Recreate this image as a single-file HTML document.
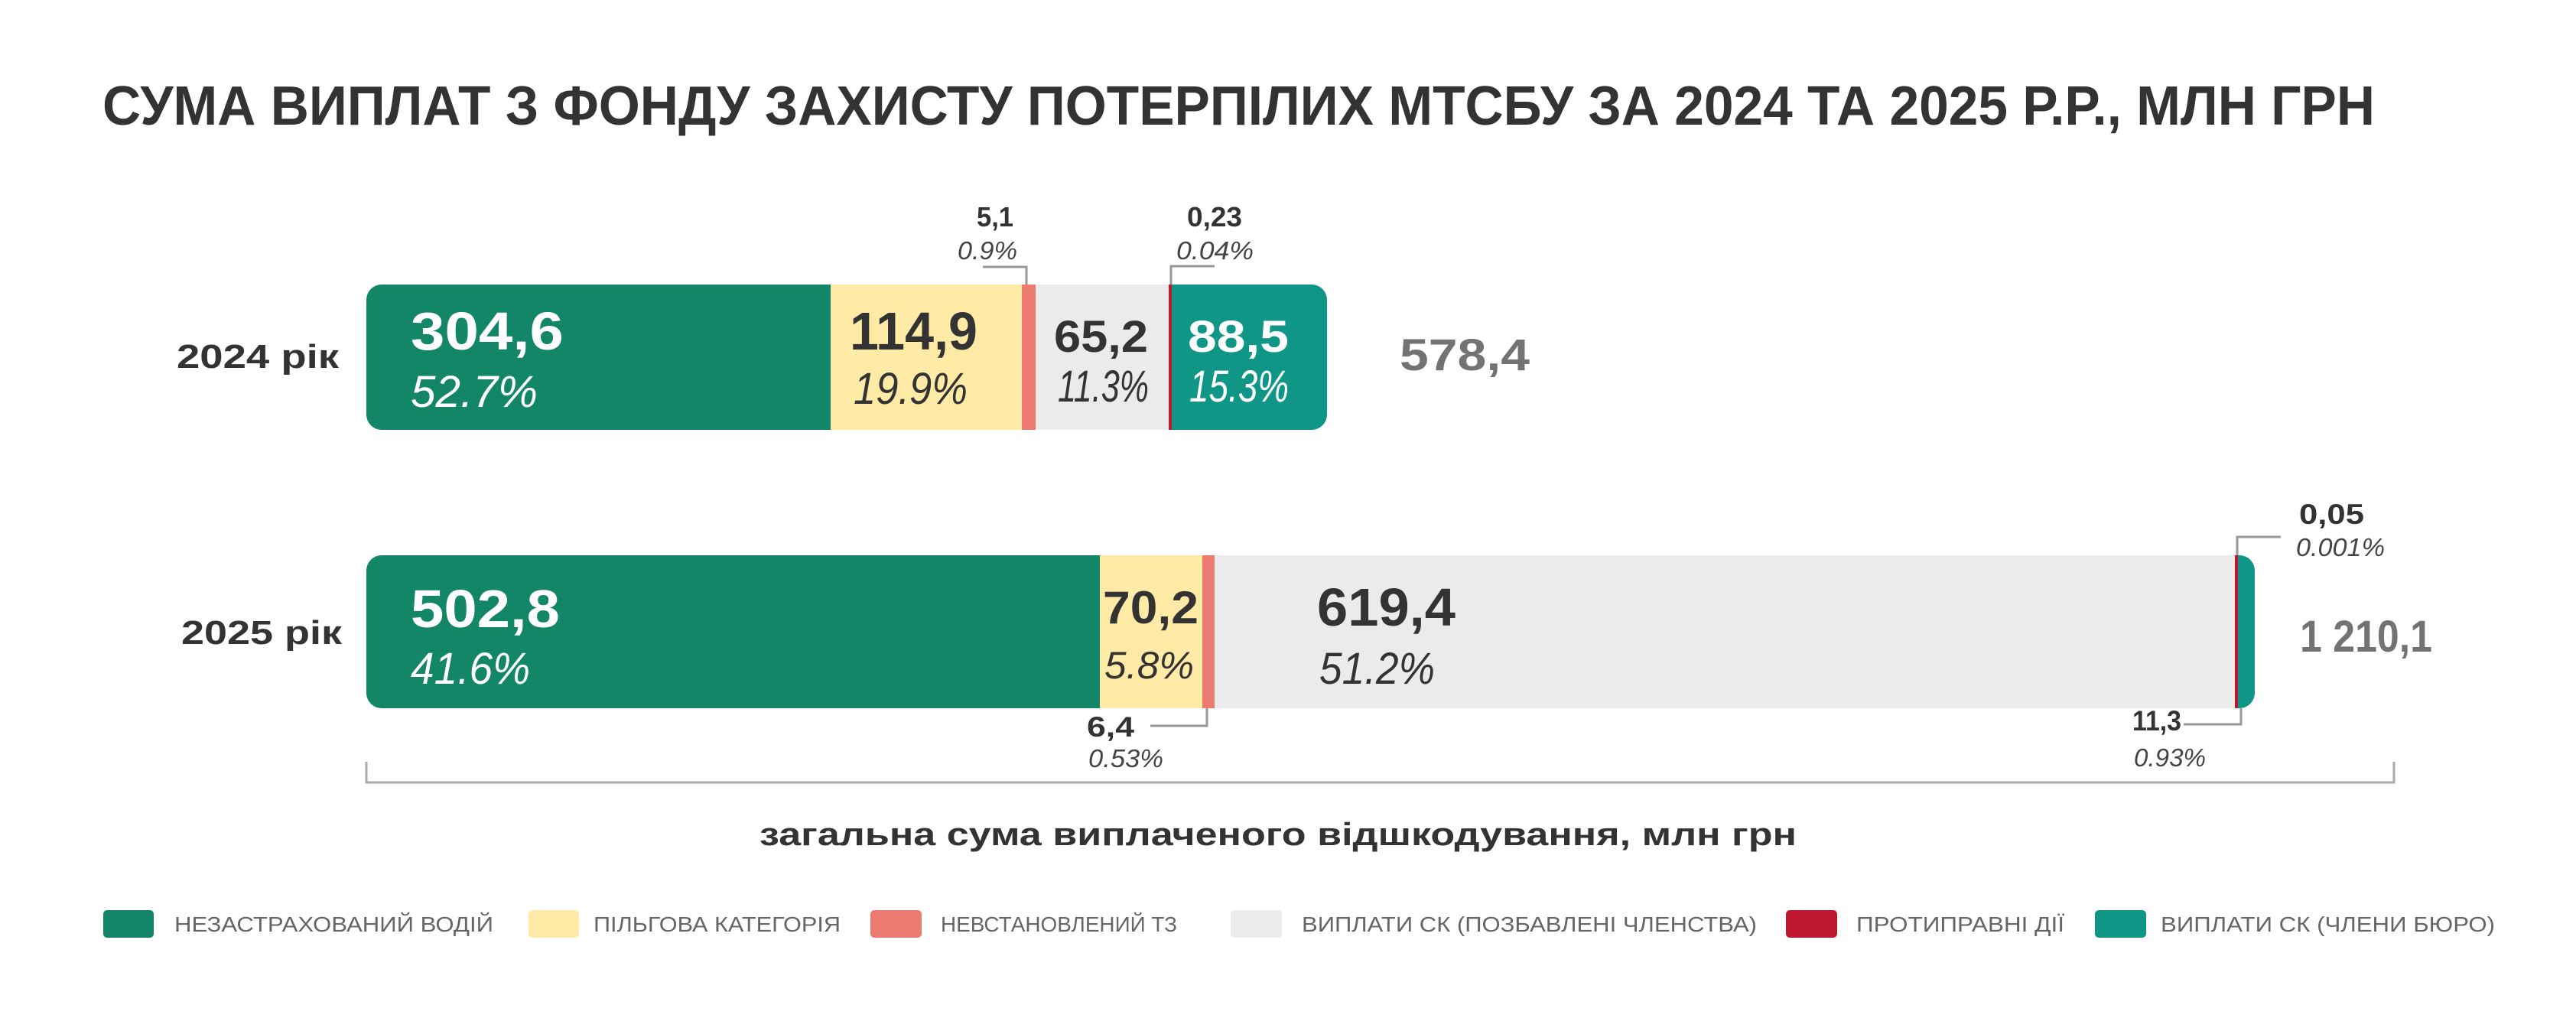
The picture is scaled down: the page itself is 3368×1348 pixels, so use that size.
<!DOCTYPE html>
<html><head><meta charset="utf-8"><style>
html,body{margin:0;padding:0;background:#fff;}
svg{display:block;}
text{font-family:"Liberation Sans","DejaVu Sans",sans-serif;}
.b{font-weight:bold;}
.i{font-style:italic;}
</style></head><body>
<svg width="3368" height="1348" viewBox="0 0 3368 1348" xmlns="http://www.w3.org/2000/svg">
<defs>
<clipPath id="c1"><rect x="479" y="372" width="1256" height="190" rx="20"/></clipPath>
<clipPath id="c2"><rect x="479" y="726" width="2469" height="200" rx="20"/></clipPath>
</defs>
<rect width="3368" height="1348" fill="#fff"/>
<text x="134" y="163" class="b" font-size="72" fill="#333" textLength="2971" lengthAdjust="spacingAndGlyphs">СУМА ВИПЛАТ З ФОНДУ ЗАХИСТУ ПОТЕРПІЛИХ МТСБУ ЗА 2024 ТА 2025 Р.Р., МЛН ГРН</text>

<!-- 2024 -->
<text x="231" y="481" class="b" font-size="44" fill="#333" textLength="212" lengthAdjust="spacingAndGlyphs">2024 рік</text>
<g clip-path="url(#c1)">
<rect x="479" y="372" width="607" height="190" fill="#128667"/>
<rect x="1086" y="372" width="250" height="190" fill="#ffeaa6"/>
<rect x="1336" y="372" width="18" height="190" fill="#ec7c72"/>
<rect x="1354" y="372" width="174" height="190" fill="#ebebeb"/>
<rect x="1528" y="372" width="4" height="190" fill="#be1731"/>
<rect x="1532" y="372" width="203" height="190" fill="#0f9686"/>
</g>
<text x="537" y="457" class="b" font-size="70" fill="#fff" textLength="200" lengthAdjust="spacingAndGlyphs">304,6</text>
<text x="537" y="532" class="i" font-size="58" fill="#fff" textLength="166" lengthAdjust="spacingAndGlyphs">52.7%</text>
<text x="1111" y="457" class="b" font-size="70" fill="#333" textLength="167" lengthAdjust="spacingAndGlyphs">114,9</text>
<text x="1116" y="528" class="i" font-size="58" fill="#333" textLength="149" lengthAdjust="spacingAndGlyphs">19.9%</text>
<text x="1378" y="460" class="b" font-size="58" fill="#333" textLength="123" lengthAdjust="spacingAndGlyphs">65,2</text>
<text x="1383" y="525" class="i" font-size="58" fill="#333" textLength="119" lengthAdjust="spacingAndGlyphs">11.3%</text>
<text x="1553" y="460" class="b" font-size="58" fill="#fff" textLength="132" lengthAdjust="spacingAndGlyphs">88,5</text>
<text x="1555" y="525" class="i" font-size="58" fill="#fff" textLength="130" lengthAdjust="spacingAndGlyphs">15.3%</text>
<text x="1830" y="484" class="b" font-size="58" fill="#737373" textLength="170" lengthAdjust="spacingAndGlyphs">578,4</text>

<text x="1277" y="296" class="b" font-size="36" fill="#333" textLength="48" lengthAdjust="spacingAndGlyphs">5,1</text>
<text x="1252" y="339" class="i" font-size="33" fill="#444" textLength="78" lengthAdjust="spacingAndGlyphs">0.9%</text>
<polyline points="1285,349 1342,349 1342,372" fill="none" stroke="#999" stroke-width="3"/>
<text x="1552" y="296" class="b" font-size="36" fill="#333" textLength="72" lengthAdjust="spacingAndGlyphs">0,23</text>
<text x="1538" y="339" class="i" font-size="33" fill="#444" textLength="101" lengthAdjust="spacingAndGlyphs">0.04%</text>
<polyline points="1588,348 1531,348 1531,372" fill="none" stroke="#999" stroke-width="3"/>

<!-- 2025 -->
<text x="237" y="842" class="b" font-size="44" fill="#333" textLength="210" lengthAdjust="spacingAndGlyphs">2025 рік</text>
<g clip-path="url(#c2)">
<rect x="479" y="726" width="959" height="200" fill="#128667"/>
<rect x="1438" y="726" width="134" height="200" fill="#ffeaa6"/>
<rect x="1572" y="726" width="16" height="200" fill="#ec7c72"/>
<rect x="1588" y="726" width="1334" height="200" fill="#ebebeb"/>
<rect x="2922" y="726" width="4" height="200" fill="#be1731"/>
<rect x="2926" y="726" width="22" height="200" fill="#0f9686"/>
</g>
<text x="537" y="820" class="b" font-size="70" fill="#fff" textLength="195" lengthAdjust="spacingAndGlyphs">502,8</text>
<text x="537" y="894" class="i" font-size="58" fill="#fff" textLength="156" lengthAdjust="spacingAndGlyphs">41.6%</text>
<text x="1442" y="815" class="b" font-size="60" fill="#333" textLength="125" lengthAdjust="spacingAndGlyphs">70,2</text>
<text x="1444" y="887" class="i" font-size="50" fill="#333" textLength="117" lengthAdjust="spacingAndGlyphs">5.8%</text>
<text x="1722" y="818" class="b" font-size="70" fill="#333" textLength="181" lengthAdjust="spacingAndGlyphs">619,4</text>
<text x="1725" y="894" class="i" font-size="58" fill="#333" textLength="151" lengthAdjust="spacingAndGlyphs">51.2%</text>
<text x="3007" y="852" class="b" font-size="58" fill="#737373" textLength="173" lengthAdjust="spacingAndGlyphs">1 210,1</text>

<text x="3006" y="685" class="b" font-size="37" fill="#333" textLength="85" lengthAdjust="spacingAndGlyphs">0,05</text>
<text x="3002" y="727" class="i" font-size="33" fill="#444" textLength="116" lengthAdjust="spacingAndGlyphs">0.001%</text>
<polyline points="2982,702 2925,702 2925,726" fill="none" stroke="#999" stroke-width="3"/>
<text x="1421" y="963" class="b" font-size="37" fill="#333" textLength="62" lengthAdjust="spacingAndGlyphs">6,4</text>
<text x="1423" y="1003" class="i" font-size="33" fill="#444" textLength="98" lengthAdjust="spacingAndGlyphs">0.53%</text>
<polyline points="1504,949 1578,949 1578,926" fill="none" stroke="#999" stroke-width="3"/>
<text x="2788" y="955" class="b" font-size="37" fill="#333" textLength="64" lengthAdjust="spacingAndGlyphs">11,3</text>
<text x="2790" y="1002" class="i" font-size="33" fill="#444" textLength="94" lengthAdjust="spacingAndGlyphs">0.93%</text>
<polyline points="2855,947 2930,947 2930,926" fill="none" stroke="#999" stroke-width="3"/>

<!-- bracket -->
<polyline points="479,996 479,1023 3130,1023 3130,996" fill="none" stroke="#aaa" stroke-width="3"/>
<text x="993" y="1105" class="b" font-size="42" fill="#333" textLength="1356" lengthAdjust="spacingAndGlyphs">загальна сума виплаченого відшкодування, млн грн</text>

<!-- legend -->
<rect x="135" y="1190" width="66" height="36" rx="5" fill="#128667"/>
<text x="228" y="1218" font-size="28" fill="#666" textLength="417" lengthAdjust="spacingAndGlyphs">НЕЗАСТРАХОВАНИЙ ВОДІЙ</text>
<rect x="691" y="1190" width="66" height="36" rx="5" fill="#ffeaa6"/>
<text x="776" y="1218" font-size="28" fill="#666" textLength="323" lengthAdjust="spacingAndGlyphs">ПІЛЬГОВА КАТЕГОРІЯ</text>
<rect x="1138" y="1190" width="67" height="36" rx="5" fill="#ec7c72"/>
<text x="1230" y="1218" font-size="28" fill="#666" textLength="309" lengthAdjust="spacingAndGlyphs">НЕВСТАНОВЛЕНИЙ ТЗ</text>
<rect x="1609" y="1190" width="67" height="36" rx="5" fill="#ebebeb"/>
<text x="1702" y="1218" font-size="28" fill="#666" textLength="595" lengthAdjust="spacingAndGlyphs">ВИПЛАТИ СК (ПОЗБАВЛЕНІ ЧЛЕНСТВА)</text>
<rect x="2335" y="1190" width="67" height="36" rx="5" fill="#be1731"/>
<text x="2427" y="1218" font-size="28" fill="#666" textLength="272" lengthAdjust="spacingAndGlyphs">ПРОТИПРАВНІ ДІЇ</text>
<rect x="2739" y="1190" width="67" height="36" rx="5" fill="#0f9686"/>
<text x="2825" y="1218" font-size="28" fill="#666" textLength="437" lengthAdjust="spacingAndGlyphs">ВИПЛАТИ СК (ЧЛЕНИ БЮРО)</text>
</svg>
</body></html>
